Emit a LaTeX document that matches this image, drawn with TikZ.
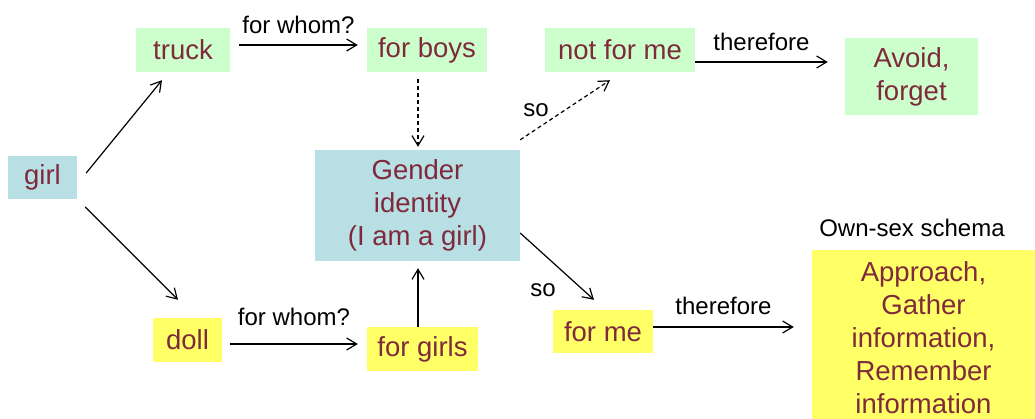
\documentclass[tikz,border=0pt]{standalone}
\usepackage{fontspec}
\setmainfont{Liberation Sans}
\usetikzlibrary{calc,arrows.meta}
\definecolor{boxgreen}{HTML}{CCFFCC}
\definecolor{boxblue}{HTML}{B8DFE3}
\definecolor{boxyellow}{HTML}{FFFF66}
\definecolor{boxtext}{HTML}{7F2A3C}
\tikzset{
  box/.style={inner sep=0pt, text=boxtext, align=center,
    font=\fontsize{27.5}{33}\selectfont},
  greenbox/.style={box, fill=boxgreen},
  bluebox/.style={box, fill=boxblue},
  yellowbox/.style={box, fill=boxyellow},
  lbl/.style={inner sep=0pt, font=\fontsize{24}{28}\selectfont},
  arr/.style={line width=1.2pt, -{Straight Barb[length=10pt,width=12pt]}},
  darr/.style={arr, dash pattern=on 4pt off 3pt}
}
\begin{document}
\begin{tikzpicture}[x=1pt, y=-1pt]
  \useasboundingbox (0,0) rectangle (1035,418);
  \node [bluebox, minimum width=69pt, minimum height=43pt] (girl) at (42.5,177.5) {girl};
  \node [greenbox, minimum width=94pt, minimum height=44pt] (truck) at (183,50) {truck};
  \node [greenbox, minimum width=120pt, minimum height=44pt] (forboys) at (427,50) {for boys};
  \node [greenbox, minimum width=150pt, minimum height=44pt] (notforme) at (620,50) {not for me};
  \node [greenbox, minimum width=133pt, minimum height=77pt] (avoid) at (911.5,76.5) {Avoid,\\forget};
  \node [bluebox, minimum width=205pt, minimum height=111pt] (gender) at (417.5,205.5) {Gender\\identity\\(I am a girl)};
  \node [yellowbox, minimum width=69pt, minimum height=44pt] (doll) at (187.5,340) {doll};
  \node [yellowbox, minimum width=111pt, minimum height=44pt] (forgirls) at (422.5,349) {for girls};
  \node [yellowbox, minimum width=100pt, minimum height=43pt] (forme) at (603,331.5) {for me};
  \node [yellowbox, minimum width=223pt, minimum height=176pt] (approach) at (923.5,338) {Approach,\\Gather\\information,\\ Remember\\information};
  \node [lbl] (schema) at (912,228) {Own-sex schema};

  \draw [arr] ($(girl.east)+(9,-4.5)$) -- ($(truck.south)+(-21,8)$);
  \draw [arr] ($(girl.east)+(8,29.5)$) -- ($(doll.north)+(-9.5,-18)$);
  \draw [arr] ($(truck.east)+(9,-5)$) -- node [lbl, above=11pt] (whomtop) {for whom?} ($(forboys.west)+(-9,-5)$);
  \draw [darr] ($(forboys.south)+(-9,7)$) -- ($(gender.north)+(0.5,-3)$);
  \draw [arr] ($(doll.east)+(8,4)$) -- node [lbl, above=18pt] (whombot) {for whom?} ($(forgirls.west)+(-9,-5)$);
  \draw [arr] ($(forgirls.north)+(-4.5,0)$) -- ($(gender.south)+(0.5,7)$);
  \draw [darr] ($(gender.north east)+(0,-10)$) -- ($(notforme.south)+(-10,8)$);
  \draw [arr] ($(gender.east)+(0,27.5)$) -- ($(forme.north)+(-9,-10)$);
  \draw [arr] ($(notforme.east)+(0,12)$) -- node [lbl, above=11pt] (thereforetop) {therefore} ($(avoid.west)+(-17,-14.5)$);
  \draw [arr] ($(forme.east)+(0,-4.5)$) -- node [lbl, above=12pt] (thereforebot) {therefore} ($(approach.west)+(-18,-11)$);
  \node [lbl] (sotop) at (536,110) {so};
  \node [lbl] (sobot) at (543,290) {so};
\end{tikzpicture}
\end{document}
